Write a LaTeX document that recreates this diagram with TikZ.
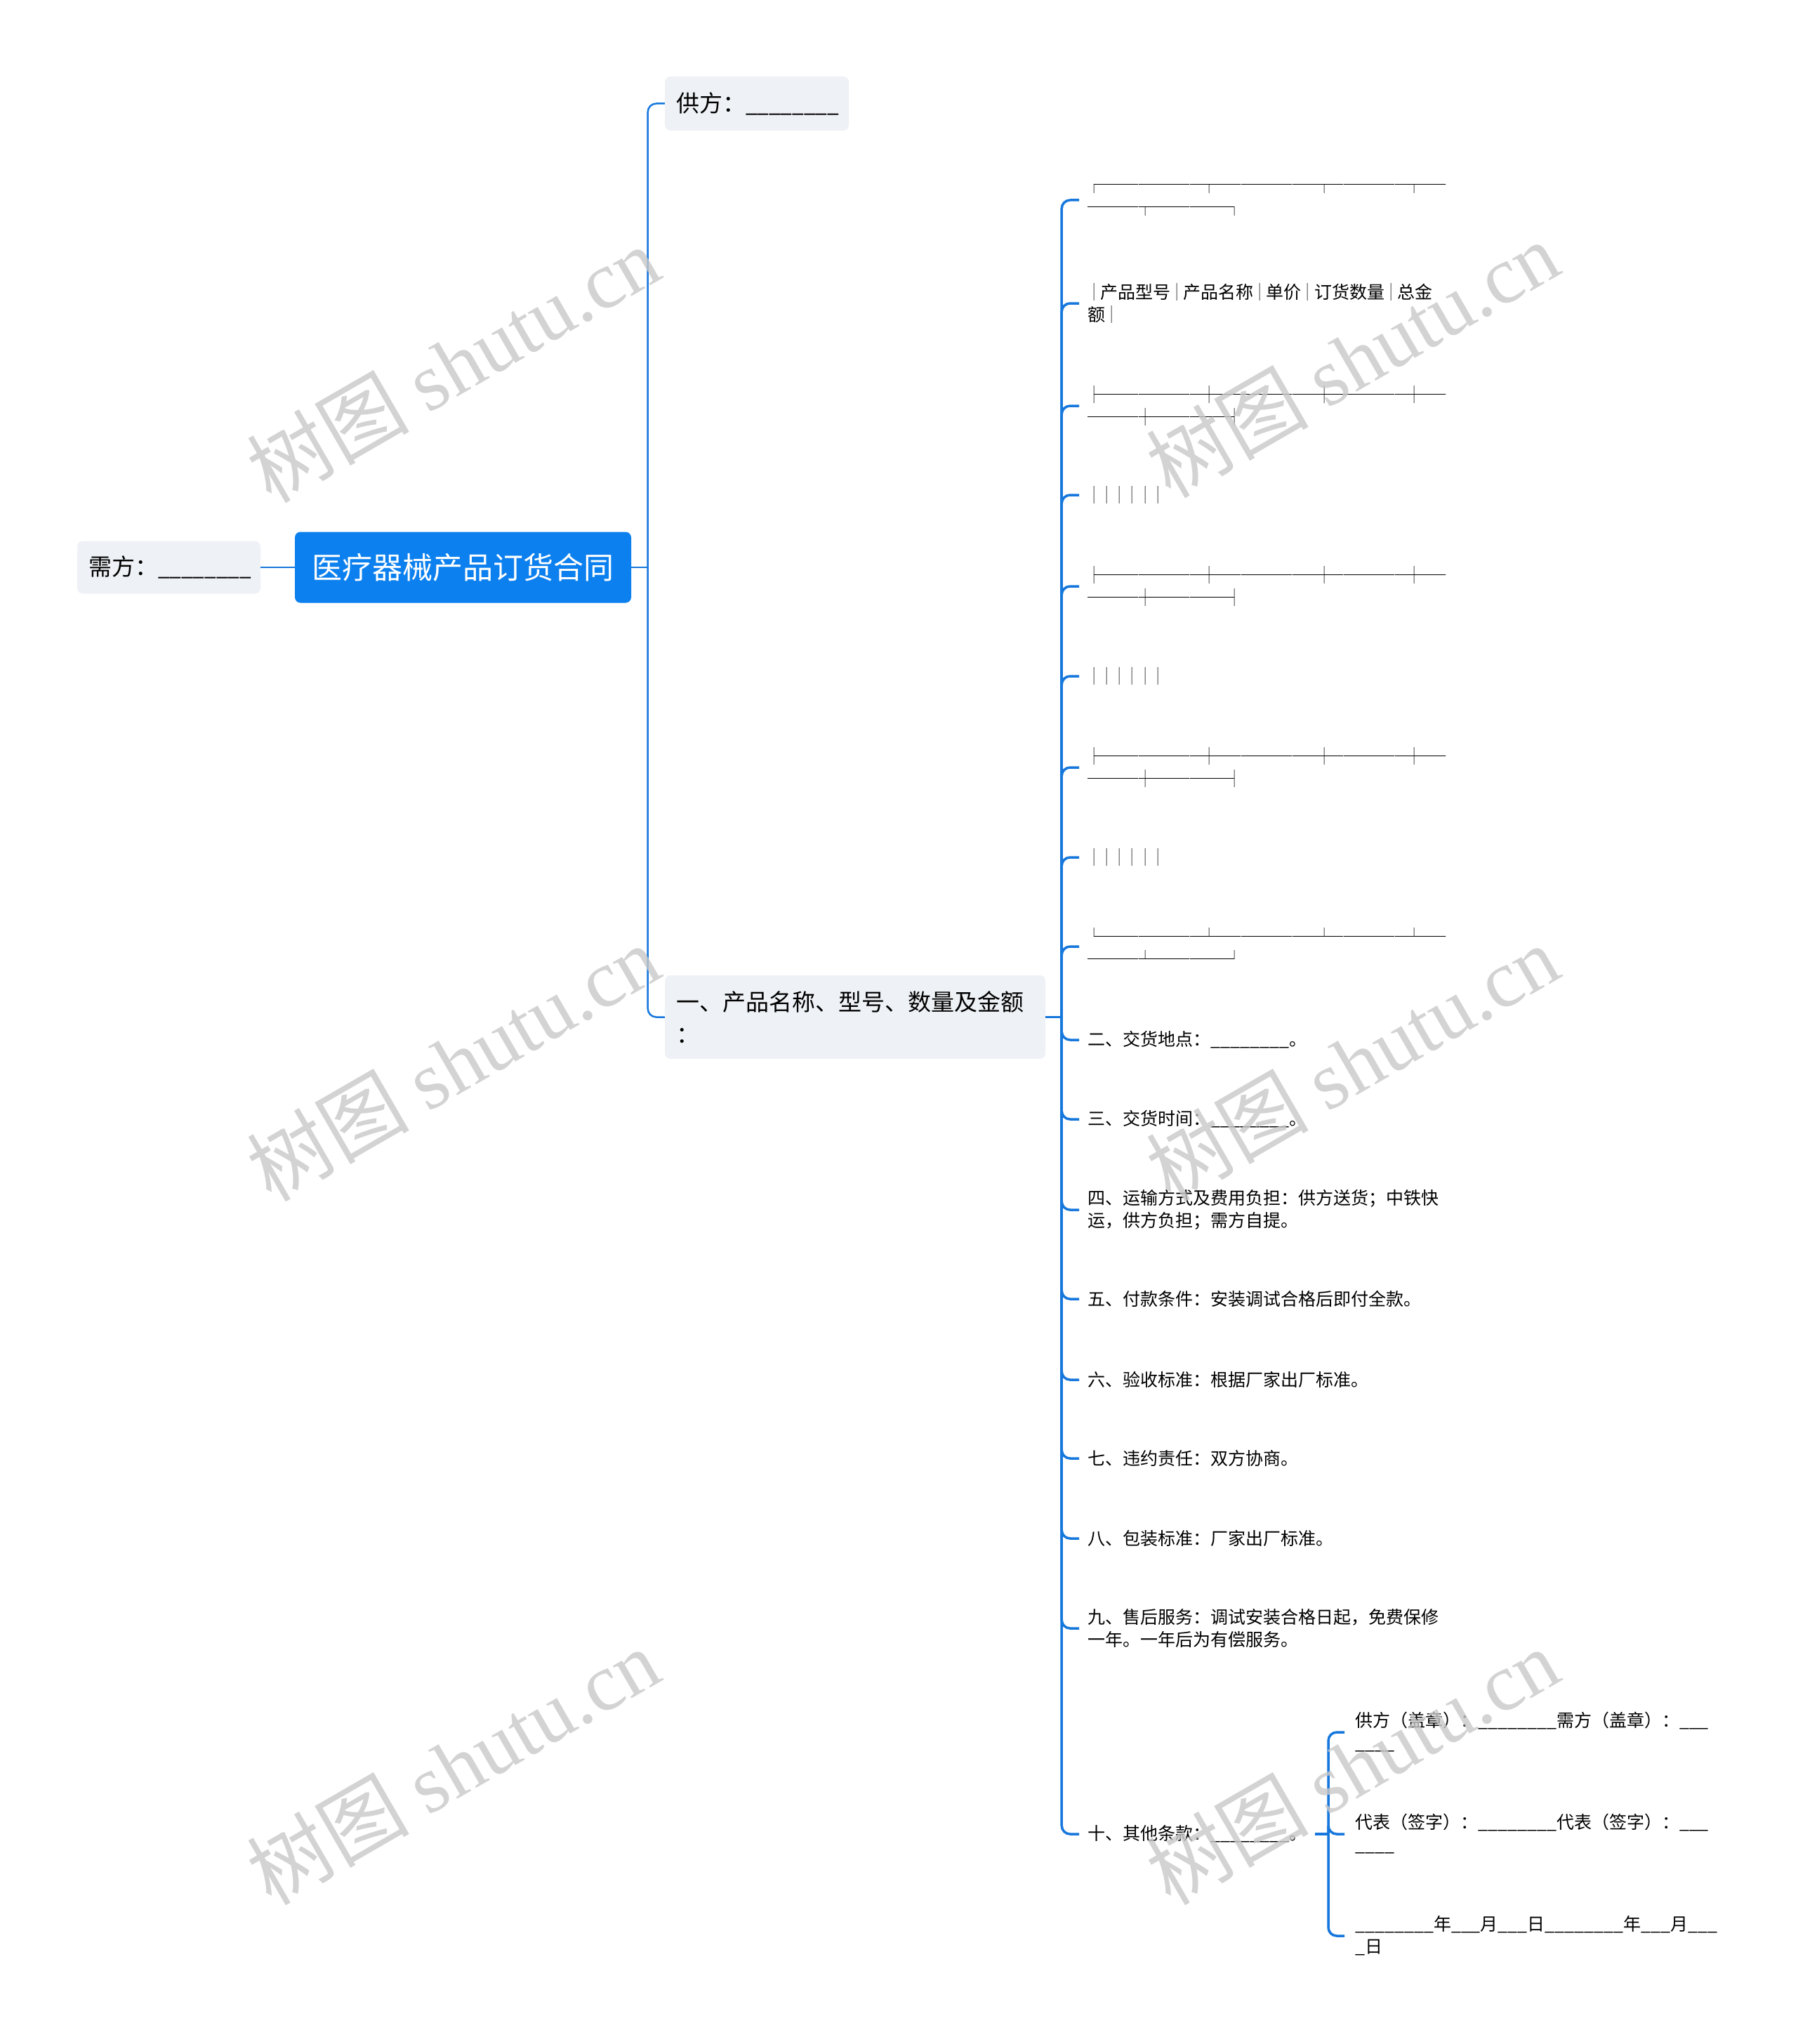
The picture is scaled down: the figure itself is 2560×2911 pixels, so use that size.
\documentclass[tikz,border=0pt]{standalone}
\usepackage{fontspec}
\setmainfont{Noto Sans CJK SC}
\newfontfamily\boxfont[FakeStretch=0.73]{Noto Sans CJK SC}
\newfontfamily\ulfont[FakeStretch=0.9]{Noto Sans CJK SC}
\newfontfamily\wmfont{Liberation Serif}
\usetikzlibrary{calc}

\definecolor{rootblue}{RGB}{12,128,238}
\definecolor{linkblue}{RGB}{22,119,220}
\definecolor{boxgray}{RGB}{238,241,245}
\definecolor{wmgray}{RGB}{200,200,200}
\newcommand{\bx}[1]{{\boxfont #1}}
\newcommand{\ulrun}[1]{{\ulfont #1}}

\tikzset{
  rootbox/.style={fill=rootblue, text=white, rounded corners=8pt, inner sep=0pt,
    minimum width=479pt, minimum height=101pt, font=\fontsize{43}{50}\selectfont},
  topic/.style={fill=boxgray, rounded corners=8pt, inner xsep=16pt, inner ysep=0pt,
    align=left, font=\fontsize{33}{46}\selectfont},
  leaf/.style={anchor=west, inner xsep=12pt, inner ysep=0pt, align=left,
    font=\fontsize{25}{32}\selectfont},
  link/.style={draw=linkblue, line width=2.5pt},
  sublink/.style={draw=linkblue, line width=3.5pt, rounded corners=12pt},
  wm/.style={rotate=30, text=wmgray, opacity=.8, inner sep=0pt,
    font=\fontsize{116}{116}\selectfont},
}

\begin{document}
\begin{tikzpicture}[x=1pt,y=-1pt]
\useasboundingbox (0,0) rectangle (2560,2911);
\def\lx{1537}
\def\cx{1915}

% root and first level
\node[rootbox] (r0) at (659.5,808) {医疗器械产品订货合同};
\node[topic, text width=229pt, minimum height=75pt] (a0) at (240.5,808) {需方：\ulrun{\_\_\_\_\_\_\_\_}};
\node[topic, text width=230pt, minimum height=77pt] (a1) at (1078,147.5) {供方：\ulrun{\_\_\_\_\_\_\_\_}};
\node[topic, text width=510pt, minimum height=119pt] (a2) at (1218,1448.5) {一、产品名称、型号、数量及金额\\：};

\coordinate (j1) at ($(r0.east)+(23.5,0)$);
\coordinate (j2) at ($(a2.east)+(23,0)$);
\coordinate (j3) at (1892,2612);

% second level
\node[leaf] (b1) at (\lx,285) {\bx{┌────────┬────────┬──────┬──}\\\bx{────┬──────┐}};
\node[leaf] (b2) at (\lx,432) {\bx{│}产品型号\bx{│}产品名称\bx{│}单价\bx{│}订货数量\bx{│}总金\\额\bx{│}};
\node[leaf] (b3) at (\lx,578) {\bx{├────────┼────────┼──────┼──}\\\bx{────┼──────┤}};
\node[leaf] (b4) at (\lx,705) {\bx{││││││}};
\node[leaf] (b5) at (\lx,835) {\bx{├────────┼────────┼──────┼──}\\\bx{────┼──────┤}};
\node[leaf] (b6) at (\lx,963) {\bx{││││││}};
\node[leaf] (b7) at (\lx,1093) {\bx{├────────┼────────┼──────┼──}\\\bx{────┼──────┤}};
\node[leaf] (b8) at (\lx,1221) {\bx{││││││}};
\node[leaf] (b9) at (\lx,1348) {\bx{└────────┴────────┴──────┴──}\\\bx{────┴──────┘}};
\node[leaf] (b10) at (\lx,1481) {二、交货地点：\_\_\_\_\_\_\_\_。};
\node[leaf] (b11) at (\lx,1594) {三、交货时间：\_\_\_\_\_\_\_\_。};
\node[leaf] (b12) at (\lx,1723) {四、运输方式及费用负担：供方送货；中铁快\\运，供方负担；需方自提。};
\node[leaf] (b13) at (\lx,1850) {五、付款条件：安装调试合格后即付全款。};
\node[leaf] (b14) at (\lx,1965) {六、验收标准：根据厂家出厂标准。};
\node[leaf] (b15) at (\lx,2077) {七、违约责任：双方协商。};
\node[leaf] (b16) at (\lx,2191) {八、包装标准：厂家出厂标准。};
\node[leaf] (b17) at (\lx,2319) {九、售后服务：调试安装合格日起，免费保修\\一年。一年后为有偿服务。};
\node[leaf] (b18) at (\lx,2612) {十、其他条款：\_\_\_\_\_\_\_\_。};

% third level
\node[leaf, inner xsep=15pt] (c1) at (\cx,2467) {供方（盖章）：\_\_\_\_\_\_\_\_需方（盖章）：\_\_\_\\\_\_\_\_};
\node[leaf, inner xsep=15pt] (c2) at (\cx,2612) {代表（签字）：\_\_\_\_\_\_\_\_代表（签字）：\_\_\_\\\_\_\_\_};
\node[leaf, inner xsep=15pt] (c3) at (\cx,2757) {\_\_\_\_\_\_\_\_年\_\_\_月\_\_\_日\_\_\_\_\_\_\_\_年\_\_\_月\_\_\_\\\_日};

% connectors
\draw[link] (r0.west) -- (a0.east);
\draw[link] (r0.east) -- (j1);
\draw[link, rounded corners=12pt] (j1) |- (a1.west);
\draw[link, rounded corners=12pt] (j1) |- (a2.west);
\draw[link] (a2.east) -- (j2);
\draw[sublink] (j2) |- (b1.west);
\draw[sublink] (j2) |- (b2.west);
\draw[sublink] (j2) |- (b3.west);
\draw[sublink] (j2) |- (b4.west);
\draw[sublink] (j2) |- (b5.west);
\draw[sublink] (j2) |- (b6.west);
\draw[sublink] (j2) |- (b7.west);
\draw[sublink] (j2) |- (b8.west);
\draw[sublink] (j2) |- (b9.west);
\draw[sublink] (j2) |- (b10.west);
\draw[sublink] (j2) |- (b11.west);
\draw[sublink] (j2) |- (b12.west);
\draw[sublink] (j2) |- (b13.west);
\draw[sublink] (j2) |- (b14.west);
\draw[sublink] (j2) |- (b15.west);
\draw[sublink] (j2) |- (b16.west);
\draw[sublink] (j2) |- (b17.west);
\draw[sublink] (j2) |- (b18.west);
\draw[sublink] (b18.east) -- (j3);
\draw[sublink] (j3) |- (c1.west);
\draw[sublink] (j3) |- (c2.west);
\draw[sublink] (j3) |- (c3.west);

% watermarks
\node[wm] (w1) at (645,518) {树图 {\wmfont shutu.cn}};
\node[wm] (w2) at (645,1513) {树图 {\wmfont shutu.cn}};
\node[wm] (w3) at (645,2515) {树图 {\wmfont shutu.cn}};
\node[wm] (w4) at (1926,511) {树图 {\wmfont shutu.cn}};
\node[wm] (w5) at (1926,1513) {树图 {\wmfont shutu.cn}};
\node[wm] (w6) at (1926,2515) {树图 {\wmfont shutu.cn}};
\end{tikzpicture}
\end{document}
